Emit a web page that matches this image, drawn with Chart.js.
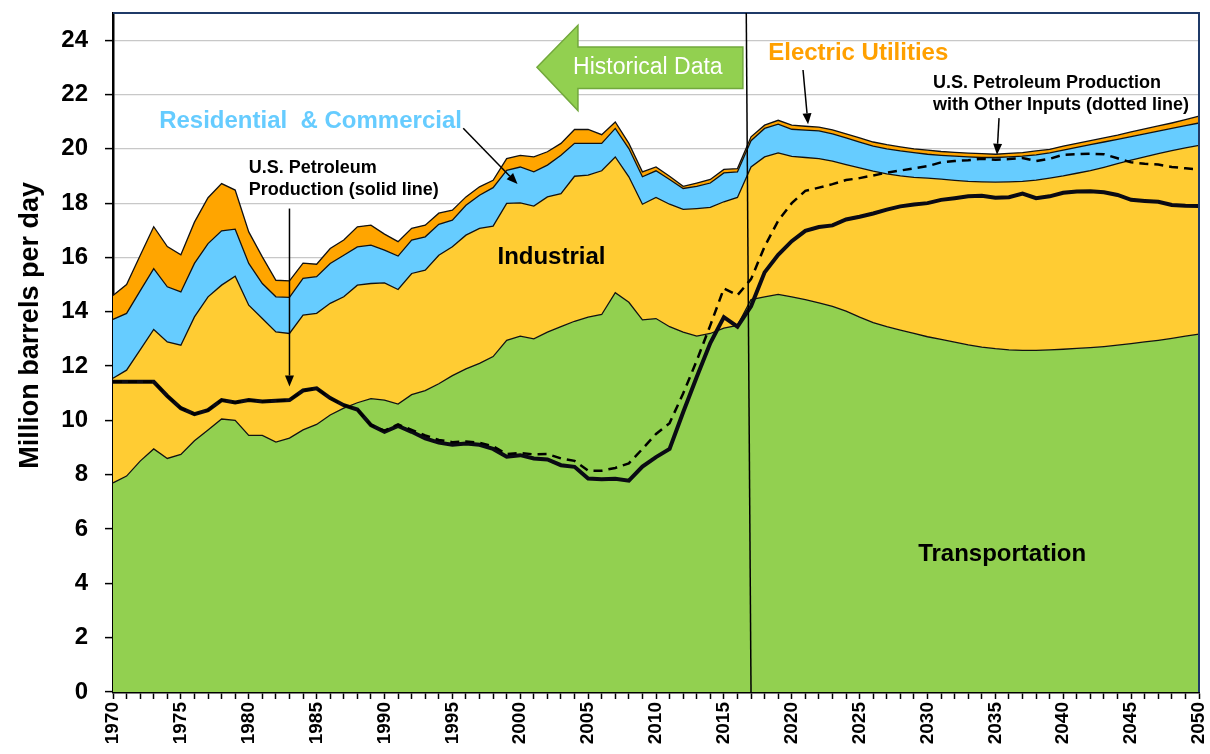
<!DOCTYPE html>
<html><head><meta charset="utf-8">
<script src="https://cdn.jsdelivr.net/npm/chart.js@4.4.1/dist/chart.umd.min.js"></script>
<style>html,body{margin:0;padding:0;background:#fff;}#wrap{width:1210px;height:754px;}</style>
</head><body><div id="wrap"><canvas id="c" width="1210" height="754"></canvas></div>
<script>
const years = [];
for (let yr = 1970; yr <= 2050; yr++) years.push(String(yr));

const transportation = [
 7.7, 7.95, 8.5, 8.95, 8.6, 8.75, 9.25, 9.65, 10.05, 10.0,
 9.45, 9.45, 9.2, 9.35, 9.65, 9.85, 10.2, 10.45, 10.65, 10.8,
 10.75, 10.6, 10.95, 11.1, 11.35, 11.65, 11.9, 12.1, 12.35, 12.95,
 13.1, 13.0, 13.25, 13.45, 13.65, 13.8, 13.9, 14.7, 14.35, 13.7,
 13.75, 13.45, 13.25, 13.1, 13.2, 13.4, 13.5, 14.45, 14.55, 14.64,
 14.55, 14.45, 14.33, 14.2, 14.02, 13.8, 13.6, 13.45, 13.32, 13.2,
 13.08, 12.98, 12.88, 12.78, 12.7, 12.64, 12.6, 12.58, 12.58, 12.6,
 12.62, 12.65, 12.68, 12.72, 12.77, 12.83, 12.89, 12.95, 13.02, 13.1,
 13.18];
const industrial = [
 3.85, 3.9, 4.1, 4.4, 4.29, 4.02, 4.56, 4.9, 4.93, 5.31,
 4.79, 4.3, 4.06, 3.85, 4.23, 4.09, 4.11, 4.1, 4.33, 4.24,
 4.31, 4.22, 4.46, 4.43, 4.73, 4.74, 4.92, 4.97, 4.8, 5.04,
 4.91, 4.89, 4.98, 4.9, 5.34, 5.23, 5.29, 5.0, 4.62, 4.26,
 4.46, 4.51, 4.52, 4.7, 4.64, 4.65, 4.71, 4.88, 5.15, 5.21,
 5.17, 5.23, 5.31, 5.35, 5.4, 5.5, 5.58, 5.63, 5.68, 5.75,
 5.84, 5.9, 5.96, 6.02, 6.08, 6.13, 6.18, 6.22, 6.27, 6.32,
 6.38, 6.45, 6.52, 6.6, 6.68, 6.75, 6.81, 6.87, 6.91, 6.93,
 6.95];
const residentialCommercial = [
 2.17, 2.09, 2.17, 2.24, 2.03, 1.96, 1.97, 1.96, 2.0, 1.73,
 1.54, 1.29, 1.29, 1.33, 1.35, 1.35, 1.47, 1.53, 1.41, 1.41,
 1.21, 1.23, 1.23, 1.23, 1.14, 0.98, 1.1, 1.22, 1.42, 1.22,
 1.32, 1.26, 1.17, 1.41, 1.21, 1.17, 1.01, 1.05, 1.04, 1.01,
 0.98, 0.91, 0.77, 0.82, 0.9, 1.06, 0.94, 0.97, 1.05, 1.06,
 1.0, 1.01, 1.02, 1.0, 0.98, 0.95, 0.92, 0.92, 0.92, 0.91,
 0.88, 0.88, 0.89, 0.9, 0.9, 0.91, 0.92, 0.93, 0.93, 0.93,
 0.95, 0.95, 0.95, 0.93, 0.9, 0.87, 0.85, 0.83, 0.82, 0.82,
 0.82];
const electricUtilities = [
 0.88, 1.06, 1.3, 1.54, 1.48, 1.37, 1.52, 1.69, 1.74, 1.44,
 1.16, 0.98, 0.61, 0.61, 0.56, 0.46, 0.55, 0.56, 0.74, 0.74,
 0.59, 0.53, 0.43, 0.43, 0.41, 0.37, 0.31, 0.31, 0.27, 0.43,
 0.43, 0.55, 0.49, 0.44, 0.51, 0.51, 0.32, 0.24, 0.19, 0.18,
 0.14, 0.12, 0.08, 0.12, 0.13, 0.13, 0.12, 0.14, 0.12, 0.14,
 0.15, 0.14, 0.14, 0.15, 0.15, 0.15, 0.15, 0.15, 0.15, 0.14,
 0.15, 0.14, 0.14, 0.14, 0.14, 0.12, 0.13, 0.13, 0.14, 0.13,
 0.15, 0.15, 0.15, 0.15, 0.15, 0.17, 0.18, 0.19, 0.2, 0.22,
 0.25];
const petroleumProduction = [
 11.42, 11.42, 11.42, 11.42, 10.9, 10.45, 10.23, 10.38, 10.75, 10.66,
 10.75, 10.7, 10.72, 10.75, 11.1, 11.18, 10.82, 10.56, 10.4, 9.83,
 9.58, 9.8, 9.58, 9.34, 9.18, 9.1, 9.15, 9.1, 8.95, 8.66,
 8.72, 8.6, 8.56, 8.35, 8.29, 7.86, 7.83, 7.85, 7.78, 8.3,
 8.65, 8.95, 10.3, 11.6, 12.85, 13.8, 13.45, 14.2, 15.45, 16.1,
 16.6, 16.98, 17.12, 17.18, 17.4, 17.5, 17.62, 17.76, 17.88, 17.95,
 18.0, 18.12, 18.18, 18.25, 18.27, 18.2, 18.22, 18.35, 18.18, 18.25,
 18.38, 18.43, 18.44, 18.4, 18.3, 18.12, 18.08, 18.05, 17.93, 17.9,
 17.89];
const productionWithOtherInputs = [
 11.42, 11.42, 11.42, 11.42, 10.9, 10.45, 10.23, 10.38, 10.75, 10.66,
 10.75, 10.7, 10.72, 10.75, 11.1, 11.18, 10.82, 10.56, 10.4, 9.83,
 9.62, 9.85, 9.65, 9.45, 9.28, 9.2, 9.22, 9.18, 9.05, 8.76,
 8.8, 8.75, 8.76, 8.6, 8.51, 8.15, 8.15, 8.25, 8.42, 8.95,
 9.5, 9.9, 10.99, 12.2, 13.5, 14.86, 14.61, 15.2, 16.4, 17.35,
 18.0, 18.45, 18.57, 18.7, 18.85, 18.92, 19.02, 19.12, 19.2, 19.28,
 19.36, 19.5, 19.55, 19.58, 19.63, 19.6, 19.62, 19.66, 19.55, 19.63,
 19.78, 19.8, 19.82, 19.8, 19.65, 19.5, 19.45, 19.42, 19.33, 19.28,
 19.24];
const yTickValues = [0, 2, 4, 6, 8, 10, 12, 14, 16, 18, 20, 22, 24];

const FONT = '"Liberation Sans", Arial, sans-serif';

function area(label, data, color, fill) {
  return { type: 'line', label, data, backgroundColor: color, borderColor: '#111',
    borderWidth: 1.3, pointRadius: 0, fill, tension: 0, stack: 'demand', order: 1 };
}

const annot = {
  id: 'annot',
  afterDraw(chart) {
    const { ctx, chartArea: a, scales: { x, y } } = chart;
    const X = yr => x.getPixelForValue(yr - 1970);
    const Y = v => y.getPixelForValue(v);
    ctx.save();
    ctx.strokeStyle = '#1f3a68'; ctx.lineWidth = 2;
    ctx.beginPath(); ctx.moveTo(a.left, a.top); ctx.lineTo(a.right, a.top); ctx.lineTo(a.right, a.bottom); ctx.stroke();
    ctx.strokeStyle = '#000'; ctx.lineWidth = 1.5;
    ctx.beginPath(); ctx.moveTo(X(2016.65), a.top); ctx.lineTo(X(2017), a.bottom); ctx.stroke();

    function arrow(x1, y1, x2, y2) {
      ctx.strokeStyle = '#000'; ctx.fillStyle = '#000'; ctx.lineWidth = 1.5;
      const ang = Math.atan2(y2 - y1, x2 - x1), L = 11, W = 4.5;
      const bx = x2 - L * Math.cos(ang), by = y2 - L * Math.sin(ang);
      ctx.beginPath(); ctx.moveTo(x1, y1); ctx.lineTo(bx, by); ctx.stroke();
      ctx.beginPath(); ctx.moveTo(x2, y2);
      ctx.lineTo(bx + W * Math.sin(ang), by - W * Math.cos(ang));
      ctx.lineTo(bx - W * Math.sin(ang), by + W * Math.cos(ang));
      ctx.closePath(); ctx.fill();
    }
    function text(t, px, py, font, color, align) {
      ctx.font = font; ctx.fillStyle = color; ctx.textAlign = align || 'left'; ctx.textBaseline = 'middle';
      ctx.fillText(t, px, py);
    }
    ctx.beginPath();
    ctx.moveTo(X(2001.23), Y(23.0));
    ctx.lineTo(X(2004.25), Y(24.55));
    ctx.lineTo(X(2004.25), Y(23.75));
    ctx.lineTo(X(2016.4), Y(23.75));
    ctx.lineTo(X(2016.4), Y(22.22));
    ctx.lineTo(X(2004.25), Y(22.22));
    ctx.lineTo(X(2004.25), Y(21.41));
    ctx.closePath();
    ctx.fillStyle = '#92d050'; ctx.fill();
    ctx.strokeStyle = '#72a83c'; ctx.lineWidth = 1.5; ctx.stroke();
    text('Historical Data', X(2009.4), Y(22.98), '23px ' + FONT, '#fff', 'center');

    const B24 = 'bold 24px ' + FONT, B18 = 'bold 18px ' + FONT;
    text('Residential  & Commercial', X(1973.4), Y(21.02), B24, '#66ccff');
    arrow(X(1995.8), Y(20.76), X(1999.8), Y(18.7));
    text('U.S. Petroleum', X(1980.0), Y(19.29), B18, '#000');
    text('Production (solid line)', X(1980.0), Y(18.5), B18, '#000');
    arrow(X(1983.0), Y(17.8), X(1983.0), Y(11.25));
    text('Industrial', X(2002.3), Y(16.0), B24, '#000', 'center');
    text('Transportation', X(2035.5), Y(5.08), B24, '#000', 'center');
    text('Electric Utilities', X(2024.9), Y(23.52), B24, '#ffa000', 'center');
    arrow(X(2020.83), Y(22.9), X(2021.2), Y(20.9));
    text('U.S. Petroleum Production', X(2030.4), Y(22.41), B18, '#000');
    text('with Other Inputs (dotted line)', X(2030.4), Y(21.6), B18, '#000');
    arrow(X(2035.27), Y(21.13), X(2035.12), Y(19.78));

    ctx.save();
    ctx.translate(31, Y(13.5));
    ctx.rotate(-Math.PI / 2);
    text('Million barrels per day', 0, 0, 'bold 27px ' + FONT, '#000', 'center');
    ctx.restore();
    ctx.restore();
  }
};

new Chart(document.getElementById('c'), {
  type: 'line',
  data: {
    labels: years,
    datasets: [
      area('Transportation', transportation, '#92d050', 'origin'),
      area('Industrial', industrial, '#ffcc33', '-1'),
      area('Residential & Commercial', residentialCommercial, '#66ccff', '-1'),
      area('Electric Utilities', electricUtilities, '#ffa500', '-1'),
      { type: 'line', label: 'U.S. Petroleum Production', data: petroleumProduction, borderColor: '#0a0a14',
        borderWidth: 4, pointRadius: 0, fill: false, tension: 0, stack: 'p1', order: -1 },
      { type: 'line', label: 'U.S. Petroleum Production with Other Inputs', data: productionWithOtherInputs,
        borderColor: '#000', borderWidth: 2.5, borderDash: [9, 6], pointRadius: 0, fill: false, tension: 0, stack: 'p2', order: -2 }
    ]
  },
  options: {
    responsive: false, animation: false, devicePixelRatio: 1,
    layout: { padding: { top: 13, right: 11, left: 0, bottom: 0 } },
    plugins: { legend: { display: false }, tooltip: { enabled: false } },
    scales: {
      x: {
        type: 'category', offset: false,
        afterFit: s => { s.height = 62; s.paddingLeft = 0; s.paddingRight = 0; },
        grid: { display: true, drawOnChartArea: false, drawTicks: true, tickLength: 7, tickColor: '#000', tickWidth: 1.5 },
        border: { display: true, color: '#000', width: 2.5 },
        ticks: { autoSkip: false, minRotation: 90, maxRotation: 90, padding: 3, color: '#000',
          font: { family: FONT, size: 19, weight: 'bold' },
          callback: (v, i) => (Number(years[i]) % 5 === 0 ? years[i] : '') }
      },
      y: {
        stacked: true, min: 0, max: 25,
        afterFit: s => { s.width = 113; s.paddingTop = 0; s.paddingBottom = 0; },
        afterBuildTicks: s => { s.ticks = yTickValues.map(v => ({ value: v })); },
        grid: { color: '#c8c8c8', lineWidth: 1.2, drawTicks: true, tickLength: 8, tickColor: '#000', tickWidth: 1.5 },
        border: { display: true, color: '#000', width: 2.5 },
        ticks: { padding: 17, color: '#000', font: { family: FONT, size: 24, weight: 'bold' } }
      }
    }
  },
  plugins: [annot]
});
</script>
</body></html>
